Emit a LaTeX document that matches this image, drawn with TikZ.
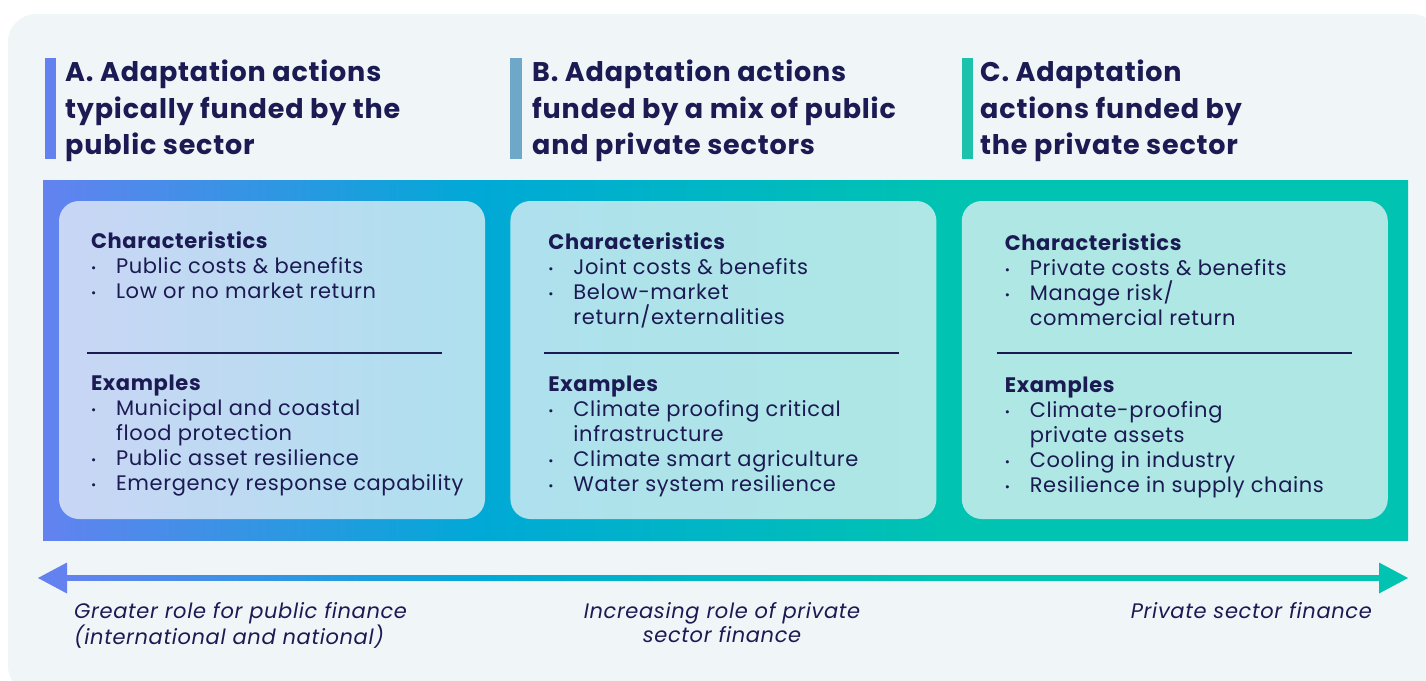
\documentclass[tikz,border=0pt]{standalone}
\usepackage{fontspec}
\setmainfont{Poppins}[LetterSpace=3]
\usetikzlibrary{positioning}

\definecolor{navy}{HTML}{1B1A52}
\definecolor{panel}{HTML}{F0F5F8}
\definecolor{pubblue}{HTML}{6382F0}
\definecolor{mixcyan}{HTML}{00A9D6}
\definecolor{privteal}{HTML}{00C3B2}
\definecolor{barB}{HTML}{6FA7C8}
\definecolor{barC}{HTML}{1DC2AC}
\definecolor{cardwash}{HTML}{F2F6F8}

% blue -> cyan -> teal, left to right (25bp..75bp is the filled path)
\pgfdeclarehorizontalshading{finance}{100bp}{color(0bp)=(pubblue); color(25bp)=(pubblue);
  color(41bp)=(mixcyan); color(58bp)=(privteal); color(100bp)=(privteal)}

\newcommand{\itm}[1]{\makebox[25pt][l]{\raisebox{1pt}{\scalebox{0.6}{\textbullet}}}#1}
\newcommand{\cont}[1]{\hspace*{25pt}#1}

\begin{document}
\begin{tikzpicture}[
            x = 1pt, y = -1pt, % work in pixels, y going down
            every node/.style = {inner sep=0pt, text=navy},
            header/.style = {anchor=north west, align=left, font=\fontsize{27}{36.5}\selectfont\bfseries},
            card/.style = {rounded corners=20pt, fill=cardwash, fill opacity=0.72,
                           minimum width=426pt, minimum height=318pt},
            body/.style = {anchor=north west, align=left, font=\fontsize{21}{25}\selectfont},
            note/.style = {align=left, font=\fontsize{21}{24}\selectfont\itshape},
            divider/.style = {navy, line width=1.8pt}
        ]

	\useasboundingbox (0,0) rectangle (1426,680);
	\fill[panel, rounded corners=28pt] (8,14) rectangle (1440,694);

	% headers
	\fill[pubblue] (45,58) rectangle (56,159);
	\fill[barB] (510,58) rectangle (522,159);
	\fill[barC] (962,58) rectangle (973,159);
	\node[header] (headA) at (65,60) {A. Adaptation actions\\typically funded by the\\public sector};
	\node[header] (headB) at (532,60) {B. Adaptation actions\\funded by a mix of public\\and private sectors};
	\node[header] (headC) at (980,60) {C. Adaptation\\actions funded by\\the private sector};

	% colour band and cards
	\shade[shading=finance] (43,180) rectangle (1408,540);
	\node[card] (cardA) at (272,360) {};
	\node[card, right=25pt of cardA] (cardB) {};
	\node[card, right=25pt of cardB] (cardC) {};

	\node[body, xshift=32pt, yshift=-31pt] (charA) at (cardA.north west)
		{\textbf{Characteristics}\\\itm{Public costs \& benefits}\\\itm{Low or no market return}};
	\draw[divider] ([xshift=28pt, yshift=-152pt]cardA.north west) -- ++(355,0);
	\node[body, xshift=32pt, yshift=-174pt] (exA) at (cardA.north west)
		{\textbf{Examples}\\\itm{Municipal and coastal}\\\cont{flood protection}\\
		 \itm{Public asset resilience}\\\itm{Emergency response capability}};

	\node[body, xshift=38pt, yshift=-32pt] (charB) at (cardB.north west)
		{\textbf{Characteristics}\\\itm{Joint costs \& benefits}\\\itm{Below-market}\\\cont{return/externalities}};
	\draw[divider] ([xshift=34pt, yshift=-152pt]cardB.north west) -- ++(355,0);
	\node[body, xshift=38pt, yshift=-175pt] (exB) at (cardB.north west)
		{\textbf{Examples}\\\itm{Climate proofing critical}\\\cont{infrastructure}\\
		 \itm{Climate smart agriculture}\\\itm{Water system resilience}};

	\node[body, xshift=43pt, yshift=-33pt] (charC) at (cardC.north west)
		{\textbf{Characteristics}\\\itm{Private costs \& benefits}\\\itm{Manage risk/}\\\cont{commercial return}};
	\draw[divider] ([xshift=35pt, yshift=-152pt]cardC.north west) -- ++(355,0);
	\node[body, xshift=43pt, yshift=-176pt] (exC) at (cardC.north west)
		{\textbf{Examples}\\\itm{Climate-proofing}\\\cont{private assets}\\
		 \itm{Cooling in industry}\\\itm{Resilience in supply chains}};

	% public <-> private scale
	\coordinate (lo) at (38,578);
	\coordinate (hi) at (1408,578);
	\shade[shading=finance] (67,575.8) rectangle (1379,580.2);
	\fill[pubblue] (lo) -- ++(29,-15.5) -- ++(0,31) -- cycle;
	\fill[privteal] (hi) -- ++(-29,-15.5) -- ++(0,31) -- cycle;

	\node[note, anchor=north west] (pubnote) at (74,602) {Greater role for public finance\\(international and national)};
	\node[note, align=center, anchor=north] (mixnote) at (722,602) {Increasing role of private\\sector finance};
	\node[note, anchor=north east] (privnote) at (1372,602) {Private sector finance};

\end{tikzpicture}
\end{document}
